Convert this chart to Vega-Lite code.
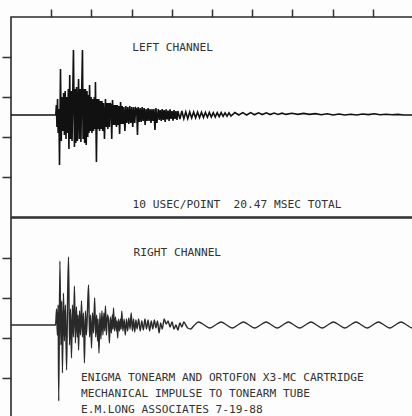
{
"$schema": "https://vega.github.io/schema/vega-lite/v6.json",
"autosize": {"type": "pad"},
"padding": {"left": 0, "top": 7, "right": 0, "bottom": 0},
"background": "#fdfdfd",
"spacing": -2,
"config": {"view": {"stroke": "#2a2a2a", "strokeWidth": 1.6}},
"datasets": {
"wave": [
{"c":"L","t":0,"v":0},{"c":"L","t":2.28,"v":0},{"c":"L","t":2.31,"v":0.5},{"c":"L","t":2.34,"v":-0.6},{"c":"L","t":2.37,"v":0.8},{"c":"L","t":2.40,"v":-0.9},{"c":"L","t":2.44,"v":0.3},{"c":"L","t":2.47,"v":-2.5},{"c":"L","t":2.52,"v":2.3},{"c":"L","t":2.56,"v":-1.3},{"c":"L","t":2.60,"v":0.9},{"c":"L","t":2.64,"v":-0.8},{"c":"L","t":2.68,"v":1.1},{"c":"L","t":2.72,"v":-1.0},{"c":"L","t":2.76,"v":1.2},{"c":"L","t":2.80,"v":-1.2},{"c":"L","t":2.84,"v":0.9},{"c":"L","t":2.88,"v":-0.9},{"c":"L","t":2.92,"v":1.3},{"c":"L","t":2.95,"v":-1.7},{"c":"L","t":2.99,"v":2.0},{"c":"L","t":3.03,"v":-1.2},{"c":"L","t":3.07,"v":1.2},{"c":"L","t":3.11,"v":-1.3},{"c":"L","t":3.15,"v":1.4},{"c":"L","t":3.18,"v":3.25},{"c":"L","t":3.23,"v":-1.6},{"c":"L","t":3.27,"v":1.3},{"c":"L","t":3.30,"v":-1.4},{"c":"L","t":3.34,"v":1.4},{"c":"L","t":3.38,"v":-1.3},{"c":"L","t":3.44,"v":1.8},{"c":"L","t":3.48,"v":-1.2},{"c":"L","t":3.52,"v":1.3},{"c":"L","t":3.56,"v":-1.35},{"c":"L","t":3.60,"v":1.2},{"c":"L","t":3.64,"v":3.25},{"c":"L","t":3.67,"v":-1.2},{"c":"L","t":3.71,"v":1.3},{"c":"L","t":3.75,"v":-1.4},{"c":"L","t":3.79,"v":1.3},{"c":"L","t":3.83,"v":-1.5},{"c":"L","t":3.87,"v":1.2},{"c":"L","t":3.91,"v":-1.1},{"c":"L","t":3.95,"v":1.0},{"c":"L","t":3.97,"v":-0.9},{"c":"L","t":4.00,"v":1.5},{"c":"L","t":4.04,"v":-0.8},{"c":"L","t":4.08,"v":0.9},{"c":"L","t":4.12,"v":-0.9},{"c":"L","t":4.16,"v":0.8},{"c":"L","t":4.20,"v":-0.8},{"c":"L","t":4.24,"v":0.9},{"c":"L","t":4.28,"v":-0.7},{"c":"L","t":4.30,"v":1.65},{"c":"L","t":4.35,"v":-2.35},{"c":"L","t":4.39,"v":0.8},{"c":"L","t":4.43,"v":-0.7},{"c":"L","t":4.47,"v":0.8},{"c":"L","t":4.51,"v":-0.8},{"c":"L","t":4.55,"v":0.7},{"c":"L","t":4.59,"v":-0.7},{"c":"L","t":4.63,"v":0.7},{"c":"L","t":4.67,"v":-0.8},{"c":"L","t":4.71,"v":0.6},{"c":"L","t":4.76,"v":-1.2},{"c":"L","t":4.81,"v":0.8},{"c":"L","t":4.85,"v":-0.6},{"c":"L","t":4.89,"v":0.6},{"c":"L","t":4.93,"v":-0.7},{"c":"L","t":4.97,"v":0.6},{"c":"L","t":5.01,"v":-0.6},{"c":"L","t":5.05,"v":0.6},{"c":"L","t":5.09,"v":0.5},{"c":"L","t":5.13,"v":-1.2},{"c":"L","t":5.17,"v":0.75},{"c":"L","t":5.21,"v":-0.5},{"c":"L","t":5.25,"v":0.5},{"c":"L","t":5.29,"v":-0.5},{"c":"L","t":5.33,"v":0.5},{"c":"L","t":5.37,"v":-0.6},{"c":"L","t":5.41,"v":0.5},{"c":"L","t":5.45,"v":-0.5},{"c":"L","t":5.49,"v":0.45},{"c":"L","t":5.53,"v":-0.95},{"c":"L","t":5.58,"v":0.65},{"c":"L","t":5.62,"v":-0.45},{"c":"L","t":5.66,"v":0.45},{"c":"L","t":5.70,"v":-0.45},{"c":"L","t":5.75,"v":0.4},{"c":"L","t":5.80,"v":-0.8},{"c":"L","t":5.85,"v":0.45},{"c":"L","t":5.90,"v":-0.4},{"c":"L","t":5.95,"v":0.4},{"c":"L","t":6.00,"v":-0.45},{"c":"L","t":6.05,"v":0.45},{"c":"L","t":6.10,"v":-0.4},{"c":"L","t":6.15,"v":0.4},{"c":"L","t":6.20,"v":-0.6},{"c":"L","t":6.25,"v":0.4},{"c":"L","t":6.30,"v":-0.4},{"c":"L","t":6.35,"v":0.35},{"c":"L","t":6.40,"v":0.3},{"c":"L","t":6.44,"v":-1.0},{"c":"L","t":6.48,"v":0.4},{"c":"L","t":6.53,"v":-0.35},{"c":"L","t":6.58,"v":0.35},{"c":"L","t":6.63,"v":-0.35},{"c":"L","t":6.68,"v":0.4},{"c":"L","t":6.73,"v":-0.3},{"c":"L","t":6.78,"v":0.35},{"c":"L","t":6.83,"v":-0.5},{"c":"L","t":6.88,"v":0.3},{"c":"L","t":6.93,"v":-0.3},{"c":"L","t":6.98,"v":0.35},{"c":"L","t":7.03,"v":-0.3},{"c":"L","t":7.08,"v":0.3},{"c":"L","t":7.13,"v":-0.4},{"c":"L","t":7.18,"v":0.3},{"c":"L","t":7.23,"v":-0.3},{"c":"L","t":7.28,"v":0.3},{"c":"L","t":7.33,"v":-0.75},{"c":"L","t":7.38,"v":0.35},{"c":"L","t":7.43,"v":-0.4},{"c":"L","t":7.5,"v":0.3},{"c":"L","t":7.55,"v":-0.25},{"c":"L","t":7.6,"v":0.25},{"c":"L","t":7.65,"v":-0.3},{"c":"L","t":7.7,"v":0.3},{"c":"L","t":7.75,"v":-0.25},{"c":"L","t":7.8,"v":0.25},{"c":"L","t":7.85,"v":-0.35},{"c":"L","t":7.9,"v":0.28},{"c":"L","t":7.95,"v":-0.22},{"c":"L","t":8.0,"v":0.22},{"c":"L","t":8.05,"v":-0.3},{"c":"L","t":8.1,"v":0.28},{"c":"L","t":8.15,"v":-0.2},{"c":"L","t":8.2,"v":0.2},{"c":"L","t":8.25,"v":-0.28},{"c":"L","t":8.3,"v":0.25},{"c":"L","t":8.35,"v":-0.2},{"c":"L","t":8.4,"v":0.2},{"c":"L","t":8.45,"v":-0.25},{"c":"L","t":8.5,"v":0.2},{"c":"L","t":8.6,"v":-0.2},{"c":"L","t":8.7,"v":0.2},{"c":"L","t":8.8,"v":-0.18},{"c":"L","t":8.9,"v":0.16},{"c":"L","t":9.0,"v":-0.18},{"c":"L","t":9.1,"v":0.15},{"c":"L","t":9.2,"v":-0.15},{"c":"L","t":9.3,"v":0.15},{"c":"L","t":9.4,"v":-0.14},{"c":"L","t":9.5,"v":0.14},{"c":"L","t":9.6,"v":-0.13},{"c":"L","t":9.7,"v":0.14},{"c":"L","t":9.8,"v":-0.12},{"c":"L","t":9.9,"v":0.13},{"c":"L","t":10.0,"v":-0.11},{"c":"L","t":10.1,"v":0.13},{"c":"L","t":10.2,"v":-0.1},{"c":"L","t":10.3,"v":0.12},{"c":"L","t":10.4,"v":-0.1},{"c":"L","t":10.5,"v":0.12},{"c":"L","t":10.6,"v":-0.08},{"c":"L","t":10.7,"v":0.12},{"c":"L","t":10.8,"v":-0.07},{"c":"L","t":10.9,"v":0.11},{"c":"L","t":11.0,"v":-0.06},{"c":"L","t":11.1,"v":0.11},{"c":"L","t":11.2,"v":-0.05},{"c":"L","t":11.4,"v":0.12},{"c":"L","t":11.6,"v":0.0},{"c":"L","t":11.8,"v":0.12},{"c":"L","t":12.0,"v":0.0},{"c":"L","t":12.2,"v":0.12},{"c":"L","t":12.4,"v":0.01},{"c":"L","t":12.6,"v":0.11},{"c":"L","t":12.8,"v":0.02},{"c":"L","t":13.0,"v":0.11},{"c":"L","t":13.2,"v":0.02},{"c":"L","t":13.4,"v":0.1},{"c":"L","t":13.6,"v":0.03},{"c":"L","t":13.8,"v":0.09},{"c":"L","t":14.0,"v":0.03},{"c":"L","t":14.3,"v":0.09},{"c":"L","t":14.6,"v":0.03},{"c":"L","t":14.9,"v":0.08},{"c":"L","t":15.2,"v":0.03},{"c":"L","t":15.5,"v":0.07},{"c":"L","t":15.8,"v":0.01},{"c":"L","t":16.1,"v":0.06},{"c":"L","t":16.4,"v":0.0},{"c":"L","t":16.7,"v":0.05},{"c":"L","t":17.0,"v":0.0},{"c":"L","t":17.3,"v":0.04},{"c":"L","t":17.6,"v":0.0},{"c":"L","t":17.9,"v":0.05},{"c":"L","t":18.2,"v":0.02},{"c":"L","t":18.5,"v":0.06},{"c":"L","t":18.8,"v":0.01},{"c":"L","t":19.1,"v":0.04},{"c":"L","t":19.4,"v":0.01},{"c":"L","t":19.7,"v":0.03},{"c":"L","t":20.0,"v":0.0},{"c":"L","t":20.47,"v":0.0},
{"c":"R","t":0,"v":0},{"c":"R","t":2.27,"v":0},{"c":"R","t":2.32,"v":0.8},{"c":"R","t":2.36,"v":-0.5},{"c":"R","t":2.40,"v":1.0},{"c":"R","t":2.43,"v":-3.8},{"c":"R","t":2.49,"v":3.2},{"c":"R","t":2.54,"v":-1.0},{"c":"R","t":2.58,"v":1.2},{"c":"R","t":2.62,"v":-2.4},{"c":"R","t":2.67,"v":1.6},{"c":"R","t":2.72,"v":-0.8},{"c":"R","t":2.77,"v":1.0},{"c":"R","t":2.83,"v":-2.25},{"c":"R","t":2.88,"v":1.2},{"c":"R","t":2.93,"v":3.4},{"c":"R","t":2.98,"v":-1.0},{"c":"R","t":3.03,"v":0.8},{"c":"R","t":3.08,"v":-1.65},{"c":"R","t":3.13,"v":1.0},{"c":"R","t":3.18,"v":-0.6},{"c":"R","t":3.23,"v":1.95},{"c":"R","t":3.28,"v":-0.9},{"c":"R","t":3.33,"v":0.9},{"c":"R","t":3.38,"v":-0.6},{"c":"R","t":3.41,"v":0.5},{"c":"R","t":3.44,"v":-1.25},{"c":"R","t":3.49,"v":0.7},{"c":"R","t":3.54,"v":-0.5},{"c":"R","t":3.59,"v":1.2},{"c":"R","t":3.64,"v":-0.6},{"c":"R","t":3.69,"v":0.6},{"c":"R","t":3.74,"v":-1.9},{"c":"R","t":3.79,"v":0.7},{"c":"R","t":3.84,"v":-0.5},{"c":"R","t":3.90,"v":0.9},{"c":"R","t":3.95,"v":2.0},{"c":"R","t":4.00,"v":-0.6},{"c":"R","t":4.05,"v":0.5},{"c":"R","t":4.10,"v":-1.15},{"c":"R","t":4.15,"v":0.6},{"c":"R","t":4.20,"v":-0.4},{"c":"R","t":4.26,"v":1.35},{"c":"R","t":4.31,"v":-0.6},{"c":"R","t":4.36,"v":0.5},{"c":"R","t":4.41,"v":-0.8},{"c":"R","t":4.43,"v":0.3},{"c":"R","t":4.48,"v":-1.4},{"c":"R","t":4.53,"v":0.6},{"c":"R","t":4.58,"v":-0.7},{"c":"R","t":4.63,"v":0.7},{"c":"R","t":4.68,"v":-0.5},{"c":"R","t":4.73,"v":0.6},{"c":"R","t":4.77,"v":-0.3},{"c":"R","t":4.81,"v":0.95},{"c":"R","t":4.86,"v":-0.5},{"c":"R","t":4.91,"v":0.5},{"c":"R","t":4.96,"v":0.3},{"c":"R","t":5.01,"v":-0.9},{"c":"R","t":5.06,"v":0.4},{"c":"R","t":5.11,"v":-0.4},{"c":"R","t":5.16,"v":0.5},{"c":"R","t":5.19,"v":-0.2},{"c":"R","t":5.22,"v":0.85},{"c":"R","t":5.27,"v":-0.3},{"c":"R","t":5.32,"v":0.4},{"c":"R","t":5.37,"v":-0.3},{"c":"R","t":5.40,"v":0.2},{"c":"R","t":5.43,"v":-0.65},{"c":"R","t":5.48,"v":0.3},{"c":"R","t":5.53,"v":-0.3},{"c":"R","t":5.58,"v":0.3},{"c":"R","t":5.61,"v":-0.2},{"c":"R","t":5.64,"v":0.7},{"c":"R","t":5.70,"v":-0.3},{"c":"R","t":5.76,"v":0.3},{"c":"R","t":5.82,"v":-0.5},{"c":"R","t":5.88,"v":0.3},{"c":"R","t":5.94,"v":-0.3},{"c":"R","t":6.00,"v":0.35},{"c":"R","t":6.06,"v":-0.2},{"c":"R","t":6.12,"v":0.6},{"c":"R","t":6.18,"v":-0.3},{"c":"R","t":6.24,"v":0.3},{"c":"R","t":6.30,"v":-0.35},{"c":"R","t":6.36,"v":0.25},{"c":"R","t":6.42,"v":-0.2},{"c":"R","t":6.50,"v":0.3},{"c":"R","t":6.58,"v":-0.3},{"c":"R","t":6.66,"v":0.2},{"c":"R","t":6.74,"v":-0.25},{"c":"R","t":6.82,"v":0.3},{"c":"R","t":6.90,"v":-0.2},{"c":"R","t":6.98,"v":0.25},{"c":"R","t":7.06,"v":-0.3},{"c":"R","t":7.14,"v":0.2},{"c":"R","t":7.22,"v":-0.2},{"c":"R","t":7.30,"v":0.25},{"c":"R","t":7.38,"v":-0.15},{"c":"R","t":7.46,"v":0.2},{"c":"R","t":7.54,"v":-0.4},{"c":"R","t":7.62,"v":0.1},{"c":"R","t":7.70,"v":-0.2},{"c":"R","t":7.80,"v":0.3},{"c":"R","t":7.90,"v":0.05},{"c":"R","t":8.00,"v":0.2},{"c":"R","t":8.10,"v":-0.1},{"c":"R","t":8.20,"v":0.15},{"c":"R","t":8.30,"v":-0.2},{"c":"R","t":8.40,"v":0.0},{"c":"R","t":8.50,"v":-0.25},{"c":"R","t":8.60,"v":0.1},{"c":"R","t":8.70,"v":-0.1},{"c":"R","t":8.80,"v":0.15},{"c":"R","t":8.90,"v":0.0},{"c":"R","t":9.00,"v":-0.15},{"c":"R","t":9.15,"v":-0.2},{"c":"R","t":9.3,"v":-0.05},{"c":"R","t":9.55,"v":0.15},{"c":"R","t":9.84,"v":0.0},{"c":"R","t":10.12,"v":-0.15},{"c":"R","t":10.41,"v":0.0},{"c":"R","t":10.70,"v":0.15},{"c":"R","t":10.98,"v":0.0},{"c":"R","t":11.27,"v":-0.15},{"c":"R","t":11.55,"v":0.0},{"c":"R","t":11.84,"v":0.15},{"c":"R","t":12.12,"v":0.0},{"c":"R","t":12.41,"v":-0.15},{"c":"R","t":12.70,"v":0.0},{"c":"R","t":12.99,"v":0.15},{"c":"R","t":13.27,"v":0.0},{"c":"R","t":13.56,"v":-0.15},{"c":"R","t":13.84,"v":0.0},{"c":"R","t":14.13,"v":0.15},{"c":"R","t":14.41,"v":0.0},{"c":"R","t":14.70,"v":-0.15},{"c":"R","t":14.99,"v":0.0},{"c":"R","t":15.28,"v":0.15},{"c":"R","t":15.56,"v":0.0},{"c":"R","t":15.85,"v":-0.15},{"c":"R","t":16.13,"v":0.0},{"c":"R","t":16.42,"v":0.15},{"c":"R","t":16.71,"v":0.0},{"c":"R","t":17.00,"v":-0.15},{"c":"R","t":17.28,"v":0.0},{"c":"R","t":17.57,"v":0.15},{"c":"R","t":17.85,"v":0.0},{"c":"R","t":18.14,"v":-0.15},{"c":"R","t":18.42,"v":0.0},{"c":"R","t":18.71,"v":0.15},{"c":"R","t":19.00,"v":0.0},{"c":"R","t":19.29,"v":-0.15},{"c":"R","t":19.57,"v":0.0},{"c":"R","t":19.86,"v":0.15},{"c":"R","t":20.15,"v":0.0},{"c":"R","t":20.43,"v":-0.15},{"c":"R","t":20.47,"v":-0.12}
],
"labels": [
{"c":"L","t":6.17,"v":3.2,"text":"LEFT CHANNEL"},
{"c":"L","t":6.19,"v":-4.65,"text":"10 USEC/POINT \u00a020.47 MSEC TOTAL"},
{"c":"R","t":6.24,"v":3.45,"text":"RIGHT CHANNEL"},
{"c":"R","t":3.56,"v":-2.8,"text":"ENIGMA TONEARM AND ORTOFON X3-MC CARTRIDGE"},
{"c":"R","t":3.56,"v":-3.6,"text":"MECHANICAL IMPULSE TO TONEARM TUBE"},
{"c":"R","t":3.56,"v":-4.4,"text":"E.M.LONG ASSOCIATES 7-19-88"}
]
},
"vconcat": [
{
"width": 402, "height": 200,
"encoding": {
"x": {"field": "t", "type": "quantitative", "scale": {"domain": [0, 20.47], "nice": false, "zero": false},
"axis": {"orient": "top", "values": [2.047, 4.094, 6.141, 8.188, 10.235, 12.282, 14.329, 16.376, 18.423], "labels": false, "domain": false, "grid": false, "tickSize": 8, "tickColor": "#333", "tickWidth": 1.5, "title": null}},
"y": {"field": "v", "type": "quantitative", "scale": {"domain": [-5.1, 4.9], "nice": false, "zero": false},
"axis": {"values": [2.9, 0.9, -1.1, -3.1], "labels": false, "domain": false, "grid": false, "tickSize": 9, "tickColor": "#333", "tickWidth": 1.5, "title": null}}
},
"layer": [
{"data": {"name": "wave"}, "transform": [{"filter": "datum.c === 'L'"}],
"mark": {"type": "line", "color": "#111", "strokeWidth": 1.6, "clip": true}},
{"data": {"name": "labels"}, "transform": [{"filter": "datum.c === 'L'"}],
"mark": {"type": "text", "align": "left", "baseline": "alphabetic", "font": "DejaVu Sans Mono", "fontSize": 11.2, "color": "#333"},
"encoding": {"text": {"field": "text"}}}
]
},
{
"width": 402, "height": 200,
"encoding": {
"x": {"field": "t", "type": "quantitative", "scale": {"domain": [0, 20.47], "nice": false, "zero": false}, "axis": null},
"y": {"field": "v", "type": "quantitative", "scale": {"domain": [-4.65, 5.35], "nice": false, "zero": false},
"axis": {"values": [3.35, 1.35, -0.65, -2.65], "labels": false, "domain": false, "grid": false, "tickSize": 9, "tickColor": "#333", "tickWidth": 1.5, "title": null}}
},
"layer": [
{"data": {"name": "wave"}, "transform": [{"filter": "datum.c === 'R'"}],
"mark": {"type": "line", "color": "#2a2a2a", "strokeWidth": 1.4, "interpolate": "monotone", "clip": true}},
{"data": {"name": "labels"}, "transform": [{"filter": "datum.c === 'R'"}],
"mark": {"type": "text", "align": "left", "baseline": "alphabetic", "font": "DejaVu Sans Mono", "fontSize": 11.2, "color": "#333"},
"encoding": {"text": {"field": "text"}}}
]
}
]
}
